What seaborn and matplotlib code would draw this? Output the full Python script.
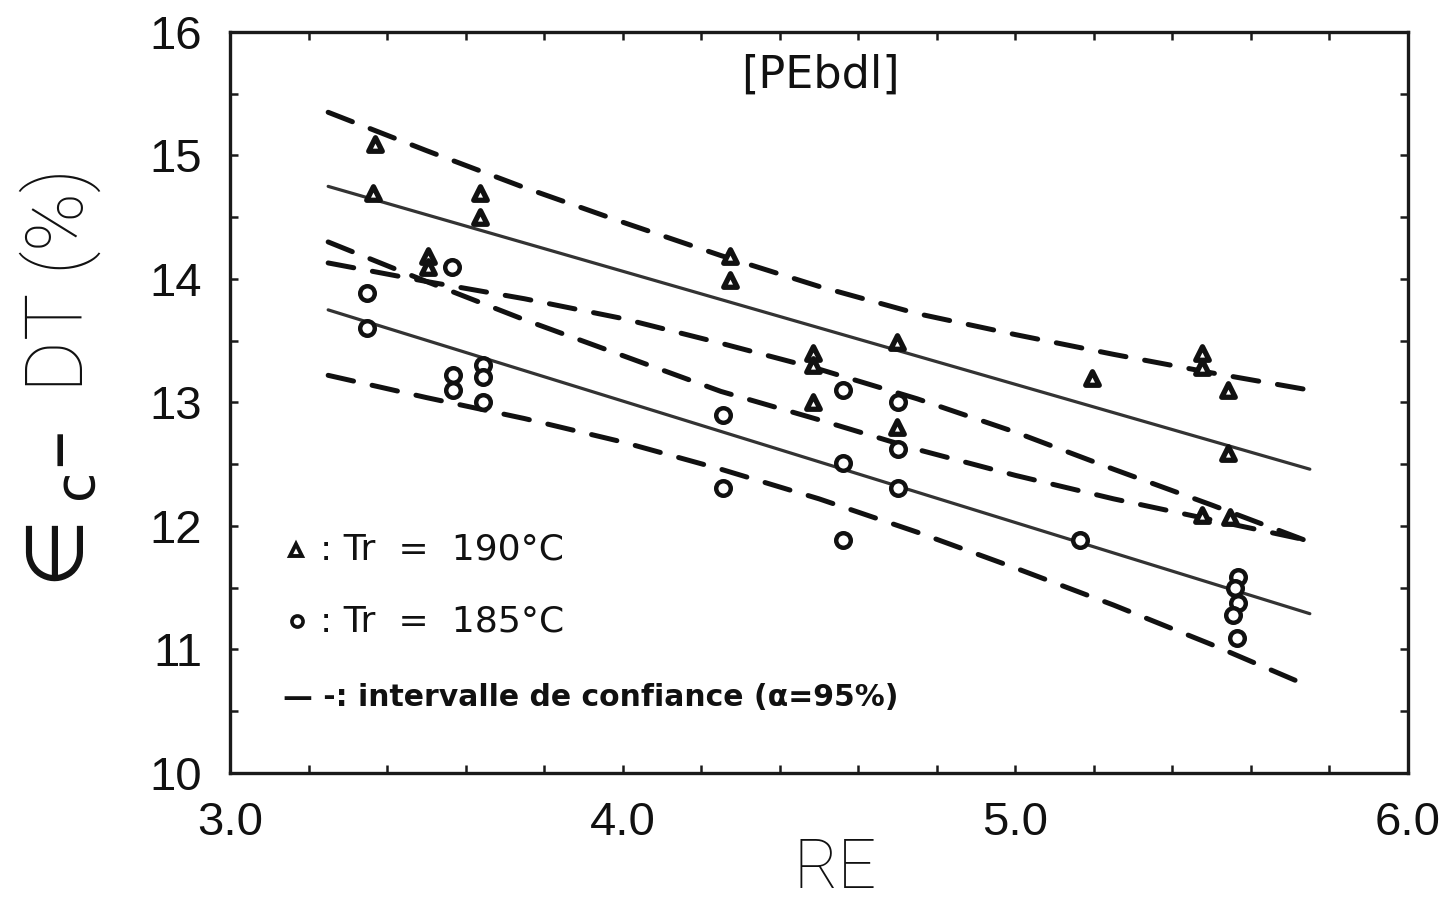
import numpy as np
import pandas as pd
import matplotlib
matplotlib.use("Agg")
import matplotlib.pyplot as plt
import seaborn as sns
from matplotlib.ticker import MultipleLocator, FormatStrFormatter

# ---------------- data ----------------
re_190 = [3.369, 3.365, 3.637, 3.637, 3.504, 3.504, 4.273, 4.273, 4.485, 4.485,
          4.485, 4.698, 4.698, 5.195, 5.475, 5.475, 5.541, 5.541, 5.475, 5.546]
eps_190 = [15.09, 14.70, 14.70, 14.50, 14.19, 14.10, 14.19, 13.99, 13.40, 13.30,
           13.00, 13.49, 12.80, 13.20, 13.40, 13.29, 13.10, 12.59, 12.09, 12.07]

re_185 = [3.349, 3.349, 3.565, 3.567, 3.567, 3.644, 3.644, 3.644, 4.255, 4.255,
          4.561, 4.561, 4.561, 4.701, 4.701, 4.701, 5.164, 5.567, 5.560, 5.567,
          5.555, 5.565]
eps_185 = [13.89, 13.60, 14.10, 13.22, 13.10, 13.30, 13.21, 13.00, 12.90, 12.31,
           13.10, 12.51, 11.89, 13.00, 12.62, 12.31, 11.89, 11.59, 11.50, 11.38,
           11.28, 11.09]

fit_x = [3.25, 5.75]
fit_190 = [14.75, 12.46]
fit_185 = [13.75, 11.29]

ci_x = [3.25, 3.5, 3.75, 4.0, 4.25, 4.5, 4.75, 5.0, 5.25, 5.5, 5.75]
ci_190_upper = [15.35, 15.04, 14.74, 14.46, 14.19, 13.94, 13.72, 13.55, 13.39, 13.24, 13.10]
ci_190_lower = [14.13, 13.98, 13.84, 13.68, 13.48, 13.27, 13.03, 12.76, 12.46, 12.17, 11.87]
ci_185_upper = [14.30, 13.98, 13.67, 13.38, 13.09, 12.86, 12.62, 12.41, 12.22, 12.05, 11.88]
ci_185_lower = [13.22, 13.04, 12.87, 12.68, 12.46, 12.22, 11.95, 11.66, 11.36, 11.04, 10.70]

x_range = [3.0, 6.0]
y_range = [10, 16]

title_text = "[PEbdl]"
legend_190 = ": Tr  =  190°C"
legend_185 = ": Tr  =  185°C"
legend_ci = "— -: intervalle de confiance (α=95%)"
x_label = "RE"
y_label = r"$\in_{\rm c}$–  DT (%)"

# ---------------- plotting ----------------
sns.set_style("white")
plt.rcParams["font.family"] = ["DejaVu Sans"]
plt.rcParams["mathtext.fontset"] = "dejavusans"

fig = plt.figure(figsize=(14.5, 9.02), dpi=100)
ax = fig.add_axes([230 / 1450, 1 - 773 / 902, 1178 / 1450, 741 / 902])

ink = "#111111"
dash = (0, (5.2, 3.8))

for yy in [ci_190_upper, ci_190_lower, ci_185_upper, ci_185_lower]:
    sns.lineplot(x=ci_x, y=yy, ax=ax, color=ink, lw=3.6, linestyle=dash,
                 estimator=None, sort=False, dash_capstyle="round")
for yy in [fit_190, fit_185]:
    sns.lineplot(x=fit_x, y=yy, ax=ax, color="#333333", lw=2.3,
                 estimator=None, sort=False)

sns.scatterplot(x=re_190, y=eps_190, ax=ax, marker="^", s=95, color="white",
                edgecolor=ink, linewidth=3.8, zorder=4)
sns.scatterplot(x=re_185, y=eps_185, ax=ax, marker="o", s=110, color="white",
                edgecolor=ink, linewidth=3.2, zorder=4)

ax.set_xlim(*x_range)
ax.set_ylim(*y_range)

ax.xaxis.set_major_locator(MultipleLocator(1.0))
ax.xaxis.set_minor_locator(MultipleLocator(0.2))
ax.yaxis.set_major_locator(MultipleLocator(1.0))
ax.yaxis.set_minor_locator(MultipleLocator(0.5))
ax.xaxis.set_major_formatter(FormatStrFormatter("%.1f"))
ax.yaxis.set_major_formatter(FormatStrFormatter("%d"))

for s in ax.spines.values():
    s.set_visible(True)
    s.set_linewidth(2.4)
    s.set_color("#1a1a1a")

ax.tick_params(which="both", direction="in", length=6, width=1.8, color="#1a1a1a",
               top=True, right=True, bottom=True, left=True)
ax.tick_params(axis="x", which="major", labelsize=34, pad=20)
ax.tick_params(axis="y", which="major", labelsize=34, pad=20)
for lab in ax.get_xticklabels() + ax.get_yticklabels():
    lab.set_family("Liberation Sans")
    lab.set_color(ink)

ax.set_xlabel(x_label, fontsize=49, family="Roboto", fontweight="light", color=ink)
ax.xaxis.set_label_coords(0.5136, -0.086)
ax.xaxis.label.set_va("top")
ax.set_ylabel(y_label, fontsize=57, family=["Roboto", "DejaVu Sans"],
              fontweight="light", color=ink)
ax.yaxis.set_label_coords(-0.108, 0.52)

ax.text(0.501, 0.942, title_text, transform=ax.transAxes, ha="center", va="center",
        fontsize=32, color=ink)

# legend block
ax.plot([0.056], [0.301], transform=ax.transAxes, marker="^", ms=8, mfc="white",
        mec=ink, mew=2.8, ls="none", clip_on=False)
ax.plot([0.057], [0.205], transform=ax.transAxes, marker="o", ms=8, mfc="white",
        mec=ink, mew=2.6, ls="none", clip_on=False)
ax.text(0.076, 0.301, legend_190, transform=ax.transAxes, ha="left", va="center",
        fontsize=26, color=ink)
ax.text(0.076, 0.205, legend_185, transform=ax.transAxes, ha="left", va="center",
        fontsize=26, color=ink)
ax.text(0.045, 0.102, legend_ci, transform=ax.transAxes, ha="left", va="center",
        fontsize=21.5, fontweight="bold", color=ink)

fig.savefig("out.png", dpi=100, facecolor="white")
